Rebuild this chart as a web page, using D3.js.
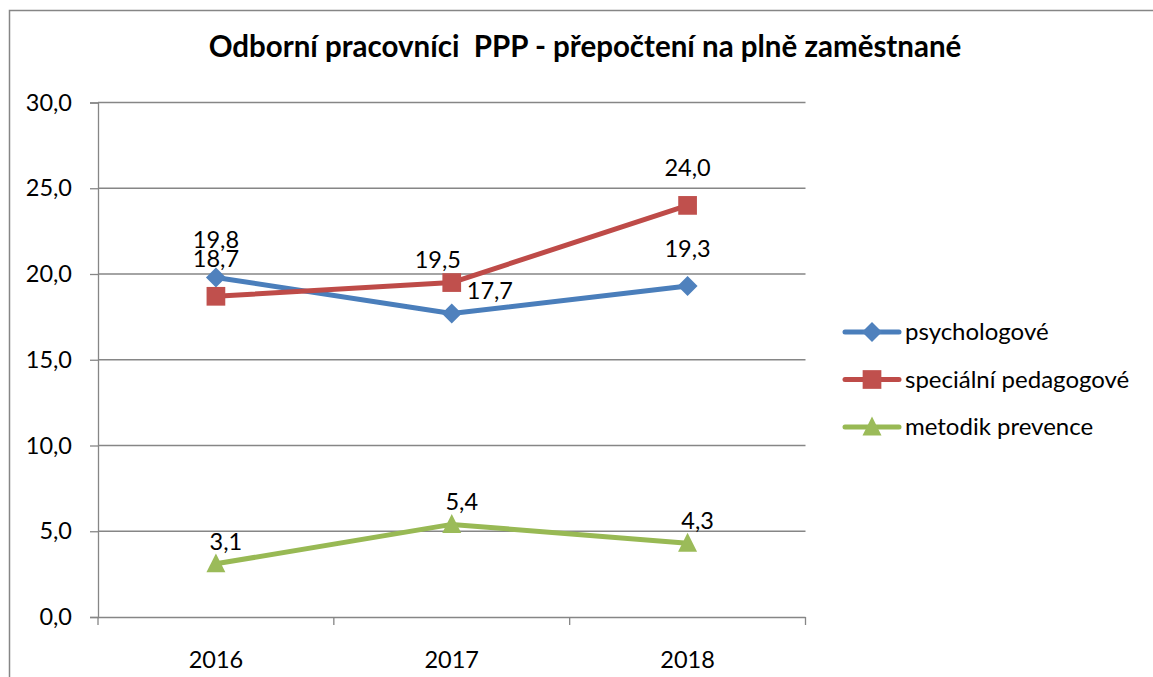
<!DOCTYPE html>
<html>
<head>
<meta charset="utf-8">
<script src="https://cdn.jsdelivr.net/npm/d3@7"></script>
<style>
  html, body { margin: 0; padding: 0; background: #fff; }
  svg { display: block; font-family: Lato, "Open Sans", sans-serif; }
</style>
</head>
<body>
<div id="chart"></div>
<script>
// chart data
const title = "Odborní pracovníci  PPP - přepočtení na plně zaměstnané";
const years = ["2016", "2017", "2018"];
const seriesNames = ["psychologové", "speciální pedagogové", "metodik prevence"];
const psychologove = [19.8, 17.7, 19.3];
const specialniPedagogove = [18.7, 19.5, 24.0];
const metodikPrevence = [3.1, 5.4, 4.3];
const yTicks = [0, 5, 10, 15, 20, 25, 30];

// where each data label sits, relative to its point
const labelPlace = [
  ["above", "right", "above"],
  ["above", "aboveLeft", "above"],
  ["aboveRight", "aboveRight", "aboveRight"]
];
const placeOffset = {
  above:      { dx: 0,   dy: -29, anchor: "middle" },
  right:      { dx: 15,  dy: -14, anchor: "start" },
  aboveLeft:  { dx: -14, dy: -15, anchor: "middle" },
  aboveRight: { dx: 10,  dy: -14, anchor: "middle" }
};

const w = 1153, h = 677;
const margin = { left: 98, right: 1153 - 805.5, top: 102.5, bottom: 677 - 617 };

const lineColors = ["#4a7ebb", "#be4b48", "#98b954"];
const markerColors = ["#4f81bd", "#c0504d", "#9bbb59"];

// square diamond, like the office marker
const diamond = {
  draw(ctx, size) {
    const r = Math.sqrt(size / 2);
    ctx.moveTo(0, -r); ctx.lineTo(r, 0); ctx.lineTo(0, r); ctx.lineTo(-r, 0); ctx.closePath();
  }
};
// slightly wide triangle
const triangle = {
  draw(ctx, size) {
    const s = Math.sqrt(size * 2);
    ctx.moveTo(0, -s * 0.55); ctx.lineTo(s / 2, s * 0.45); ctx.lineTo(-s / 2, s * 0.45); ctx.closePath();
  }
};
const markerTypes = [diamond, d3.symbolSquare, triangle];
const symbolSizes = [200, 350, 180];

const fmt = v => d3.format(".1f")(v).replace(".", ",");

const svg = d3.select("#chart").append("svg")
  .attr("width", w)
  .attr("height", h);

// outer chart frame (runs off the picture at right and bottom)
svg.append("rect")
  .attr("x", 9.5).attr("y", 10.5)
  .attr("width", w + 20).attr("height", h + 20)
  .attr("fill", "none")
  .attr("stroke", "#868686")
  .attr("stroke-width", 1.5);

svg.append("text")
  .attr("x", 585).attr("y", 57)
  .attr("text-anchor", "middle")
  .attr("font-weight", "bold")
  .attr("font-size", 29.5)
  .style("white-space", "pre")
  .text(title);

const x = d3.scaleBand()
  .domain(years)
  .range([margin.left, w - margin.right]);

const y = d3.scaleLinear()
  .domain([0, 30])
  .range([h - margin.bottom, margin.top]);

// gridlines
svg.append("g")
  .selectAll("line")
  .data(yTicks.filter(d => d > 0))
  .enter()
  .append("line")
  .attr("x1", margin.left).attr("x2", w - margin.right)
  .attr("y1", d => y(d)).attr("y2", d => y(d))
  .attr("stroke", "#868686")
  .attr("stroke-width", 1.3);

// y axis
const yAxis = d3.axisLeft(y)
  .tickValues(yTicks)
  .tickFormat(fmt)
  .tickSize(8)
  .tickPadding(18);

const gy = svg.append("g")
  .attr("transform", `translate(${margin.left},0)`)
  .call(yAxis);

// x axis, ticks on category boundaries
const xAxis = d3.axisBottom(x).tickSize(0).tickPadding(34);
const gx = svg.append("g")
  .attr("transform", `translate(0,${h - margin.bottom})`)
  .call(xAxis);

svg.append("g")
  .selectAll("line")
  .data(years.map(d => x(d)).concat([x(years[years.length - 1]) + x.bandwidth()]))
  .enter()
  .append("line")
  .attr("x1", d => d).attr("x2", d => d)
  .attr("y1", y(0)).attr("y2", y(0) + 8)
  .attr("stroke", "#868686")
  .attr("stroke-width", 1.3);

[gx, gy].forEach(g => {
  g.select(".domain").attr("stroke", "#868686").attr("stroke-width", 1.3);
  g.selectAll(".tick line").attr("stroke", "#868686").attr("stroke-width", 1.3);
  g.selectAll(".tick text")
    .attr("font-family", "Lato, 'Open Sans', sans-serif")
    .attr("font-size", 23.5)
    .attr("fill", "#000");
});
gx.select(".domain").attr("d", `M${margin.left},0.5H${w - margin.right}`);

const series = [psychologove, specialniPedagogove, metodikPrevence];
const cx = d => x(d) + x.bandwidth() / 2;

const line = d3.line()
  .x((d, i) => cx(years[i]))
  .y(d => y(d));

series.forEach((vals, s) => {
  const g = svg.append("g");
  g.append("path")
    .attr("d", line(vals))
    .attr("fill", "none")
    .attr("stroke", lineColors[s])
    .attr("stroke-width", 5)
    .attr("stroke-linejoin", "round")
    .attr("stroke-linecap", "round");

  g.selectAll("path.marker")
    .data(vals)
    .enter()
    .append("path")
    .attr("class", "marker")
    .attr("d", d3.symbol().type(markerTypes[s]).size(symbolSizes[s]))
    .attr("transform", (d, i) => `translate(${cx(years[i])},${y(d)})`)
    .attr("fill", markerColors[s]);
});

// data labels
series.forEach((vals, s) => {
  svg.append("g")
    .selectAll("text")
    .data(vals)
    .enter()
    .append("text")
    .attr("x", (d, i) => cx(years[i]) + placeOffset[labelPlace[s][i]].dx)
    .attr("y", (d, i) => y(d) + placeOffset[labelPlace[s][i]].dy)
    .attr("text-anchor", (d, i) => placeOffset[labelPlace[s][i]].anchor)
    .attr("font-size", 23.5)
    .text(fmt);
});

// legend
const legend = svg.append("g")
  .attr("transform", "translate(845,332)");

seriesNames.forEach((name, s) => {
  const row = legend.append("g")
    .attr("transform", `translate(0,${s * 47.5})`);
  row.append("line")
    .attr("x1", 0).attr("x2", 54)
    .attr("stroke", lineColors[s])
    .attr("stroke-width", 5)
    .attr("stroke-linecap", "round");
  row.append("path")
    .attr("d", d3.symbol().type(markerTypes[s]).size(symbolSizes[s]))
    .attr("transform", "translate(27,0)")
    .attr("fill", markerColors[s]);
  row.append("text")
    .attr("x", 60)
    .attr("dy", "0.35em")
    .attr("font-size", 24)
    .text(name);
});
</script>
</body>
</html>
